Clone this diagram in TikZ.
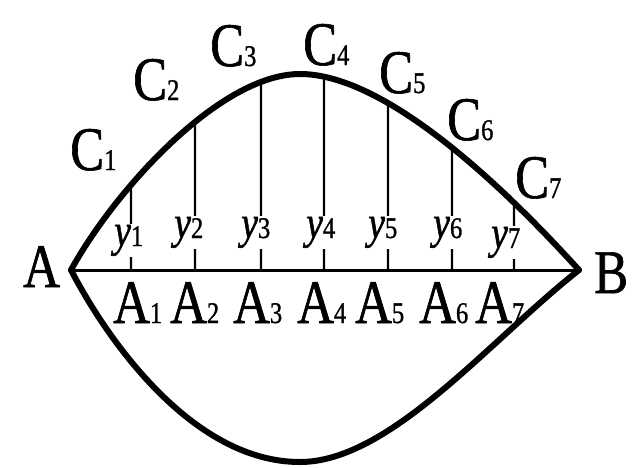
\documentclass[tikz,border=0pt]{standalone}
\usepackage{fontspec}
\setmainfont[FakeStretch=0.82,FakeBold=1]{Liberation Serif}
\usetikzlibrary{intersections}
\newcommand\mysub[1]{{\fontsize{30}{30}\selectfont\upshape #1}}
\begin{document}
\begin{tikzpicture}[x=1pt,y=-1pt,
  curve/.style={line width=6pt, line join=round, line cap=round},
  baseline/.style={line width=3pt},
  ord/.style={line width=2.2pt},
  big/.style={inner sep=0pt, anchor=base west, font=\fontsize{62}{62}\selectfont},
  ylab/.style={inner sep=1pt, anchor=base west, fill=white, font=\fontsize{46}{46}\selectfont}]
\useasboundingbox (0,0) rectangle (634,467);
\coordinate (A) at (71,270);
\coordinate (B) at (579,270);
\coordinate (T) at (300,74);
\coordinate (D) at (300,462);
% upper curve
\draw[curve, name path=top] (A) .. controls (115,190) and (220,74) .. (T)
  .. controls (370,74) and (470,150) .. (B);
% lower curve
\draw[curve] (A) .. controls (110,345) and (195,462) .. (D)
  .. controls (390,462) and (490,340) .. (B);
% chord AB
\draw[baseline] (A) -- (B);
% ordinates
\foreach \i/\x in {1/131,2/195,3/261,4/324,5/388,6/452,7/514}{
  \path[name path=v\i] (\x,0) -- (\x,300);
  \path[name intersections={of=top and v\i, by=K\i}];
  \coordinate (P\i) at (\x,270);
  \draw[ord] (P\i) -- (K\i);
}
% y labels
\foreach \i/\x/\y in {1/113/246,2/173/238,3/240/238,4/305/238,5/367/238,6/432/238,7/490/248}{
  \node[ylab] (y\i) at (\x,\y) {\textit{y}\mysub{\i}};
}
% C labels
\foreach \i/\x/\y in {1/70/170,2/133/100,3/210/66,4/303/65,5/379/93,6/447/140,7/515/198}{
  \node[big] (lC\i) at (\x,\y) {C\mysub{\i}};
}
% A_i labels
\foreach \i/\x in {1/113,2/170,3/233,4/297,5/355,6/419,7/475}{
  \node[big] (lA\i) at (\x,323) {A\mysub{\i}};
}
\node[big] (lA) at (23,287) {A};
\node[big] (lB) at (594,293) {B};
\end{tikzpicture}
\end{document}
